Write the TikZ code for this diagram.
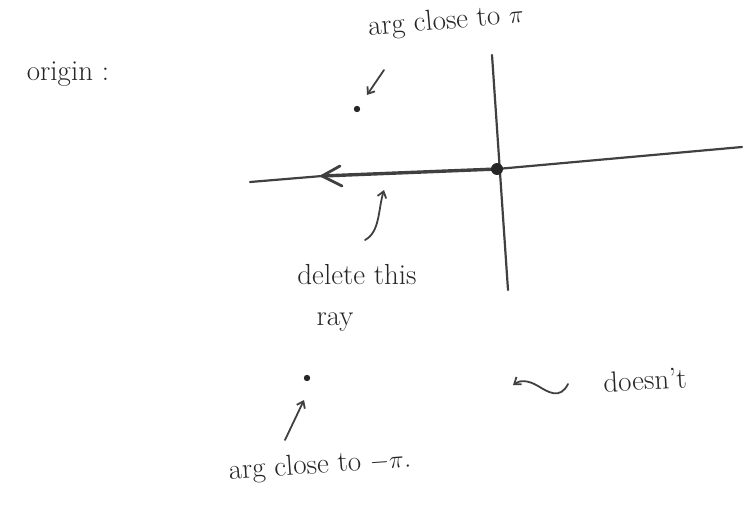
\documentclass[tikz,border=0pt]{standalone}
\usetikzlibrary{arrows.meta,decorations.pathmorphing}
\begin{document}
\begin{tikzpicture}[x=1pt,y=-1pt,
  ink/.style={draw=black!75,line width=2.2pt,line cap=round},
  hand/.style={text=black!85,font=\fontsize{29}{32}\selectfont,inner sep=0pt},
  ptr/.style={ink,line width=1.8pt,-{Straight Barb[length=6pt,width=9pt]}}]
\useasboundingbox (0,0) rectangle (749,511);
% axes
\coordinate (L) at (250,182);
\coordinate (A) at (322,176);
\coordinate (O) at (497,169);
\coordinate (R) at (742,147);
\coordinate (T) at (492,55);
\coordinate (B) at (508,290);
\draw[ink] (L) -- (A);
\draw[ink,line width=3.4pt] (O) -- (A);
\draw[ink,line width=2.8pt] (A) -- ++(18,-10) (A) -- ++(20,10);
\draw[ink] (O) -- (R);
\draw[ink] (T) -- (B);
\fill[black!85] (O) circle (6pt);
% texts
\node[hand] (orig) at (68,74) {origin :};
\node[hand,rotate=5] (argpi) at (446,22) {arg close to $\pi$};
\node[hand] (del) at (357,275) {delete this};
\node[hand] (ray) at (335,322) {ray};
\node[hand,rotate=4] (argmpi) at (320,466) {arg close to $-\pi$.};
\node[hand,rotate=3] (doesnt) at (645,380) {doesn't};
% points
\fill[black!85] (357,109) circle (3.2pt) coordinate (p1);
\fill[black!85] (307,378) circle (3.2pt) coordinate (p2);
% pointers
\coordinate (a1s) at (384,70);
\coordinate (a1e) at (367,95);
\draw[ptr] (a1s) -- (a1e);
\coordinate (a2s) at (365,240);
\coordinate (a2e) at (384,190);
\draw[ptr] (a2s) .. controls (380,232) and (378,210) .. (a2e);
\coordinate (a3s) at (285,440);
\coordinate (a3e) at (304,400);
\draw[ptr] (a3s) -- (a3e);
\coordinate (a4s) at (568,384);
\coordinate (a4e) at (513,385);
\draw[ptr] (a4s) .. controls (560,400) and (548,392) .. (538,386) .. controls (528,380) and (520,380) .. (a4e);
\end{tikzpicture}
\end{document}
